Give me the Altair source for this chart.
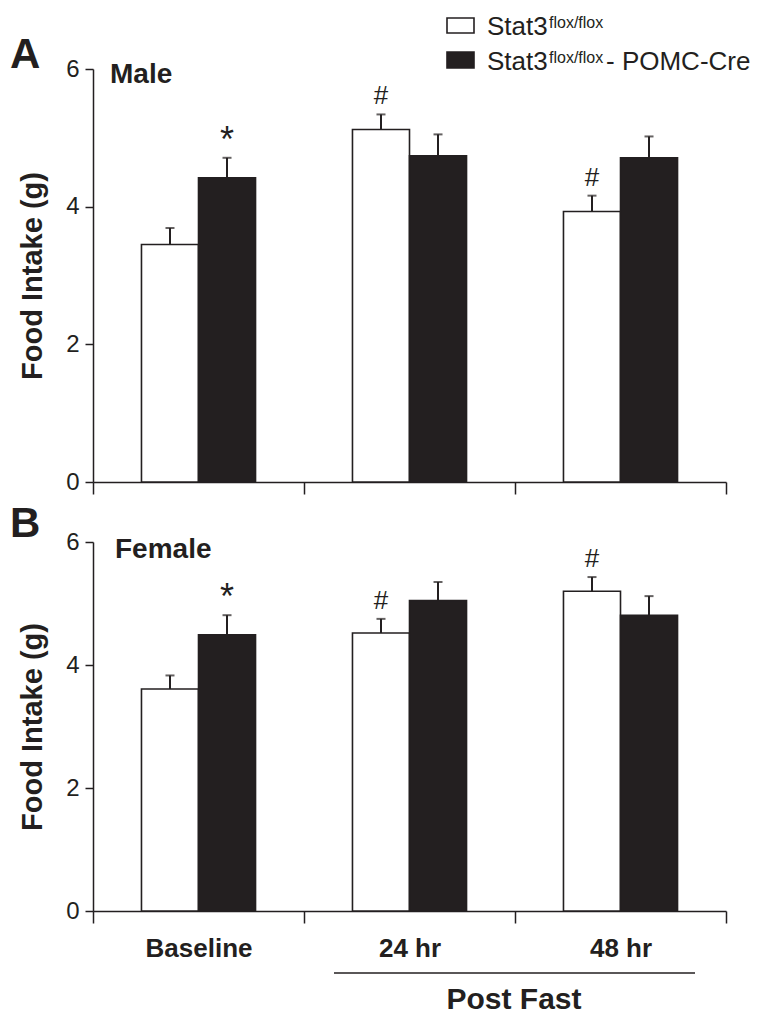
import altair as alt
import pandas as pd

# ---------------- data ----------------
times = ["Baseline", "24 hr", "48 hr"]
genos = ["ctrl", "ko"]

male_ctrl = [3.45, 5.12, 3.93]
male_ctrl_sem = [0.24, 0.22, 0.23]
male_ko = [4.42, 4.74, 4.71]
male_ko_sem = [0.29, 0.31, 0.31]
male_ctrl_sig = ["", "#", "#"]
male_ko_sig = ["*", "", ""]

female_ctrl = [3.61, 4.52, 5.20]
female_ctrl_sem = [0.22, 0.23, 0.23]
female_ko = [4.49, 5.05, 4.81]
female_ko_sem = [0.32, 0.30, 0.31]
female_ctrl_sig = ["", "#", "#"]
female_ko_sig = ["*", "", ""]

y_ticks = [0, 2, 4, 6]

INK = "#231f20"
FONT = "Liberation Sans"


def make_df(ctrl, ctrl_sem, ko, ko_sem, ctrl_sig, ko_sig):
    rows = []
    for i, t in enumerate(times):
        rows.append({"time": t, "geno": "ctrl", "mean": ctrl[i],
                     "top": ctrl[i] + ctrl_sem[i], "sig": ctrl_sig[i]})
        rows.append({"time": t, "geno": "ko", "mean": ko[i],
                     "top": ko[i] + ko_sem[i], "sig": ko_sig[i]})
    return pd.DataFrame(rows)


fill_scale = alt.Scale(domain=genos, range=["white", INK])


def panel(df, height, show_labels, extra):
    x_axis = alt.Axis(
        title=None,
        labels=show_labels,
        labelAngle=0,
        labelFontSize=26,
        labelFontWeight="bold",
        labelPadding=12,
        labelColor=INK,
        tickBand="extent",
        tickSize=12,
        tickWidth=1.5,
        tickColor=INK,
        domainColor=INK,
        domainWidth=1.5,
    )
    x = alt.X("time:N", sort=times, axis=x_axis,
              scale=alt.Scale(paddingInner=0, paddingOuter=0))
    xo = alt.XOffset("geno:N", sort=genos,
                     scale=alt.Scale(paddingInner=0, paddingOuter=0.85))
    y_axis = alt.Axis(
        values=y_ticks,
        format="d",
        grid=False,
        tickSize=8,
        tickWidth=1.5,
        tickColor=INK,
        domainColor=INK,
        domainWidth=1.5,
        labelFontSize=24,
        labelColor=INK,
        labelPadding=6,
        title="Food Intake (g)",
        titleFontSize=29,
        titleFontWeight="bold",
        titleColor=INK,
        titlePadding=18,
    )
    y_scale = alt.Scale(domain=[0, 6], nice=False)

    base = alt.Chart(df)
    bars = base.mark_bar(stroke=INK, strokeWidth=1.6).encode(
        x=x, xOffset=xo,
        y=alt.Y("mean:Q", scale=y_scale, axis=y_axis),
        fill=alt.Fill("geno:N", scale=fill_scale, legend=None),
    )
    err = base.mark_rule(color=INK, strokeWidth=2).encode(
        x=x, xOffset=xo, y="mean:Q", y2="top:Q")
    cap = base.mark_tick(orient="horizontal", size=9, thickness=2,
                         color=INK).encode(x=x, xOffset=xo, y="top:Q")
    hashes = base.transform_filter(alt.datum.sig == "#").mark_text(
        fontSize=26, dy=-10, baseline="alphabetic", color=INK, font=FONT
    ).encode(x=x, xOffset=xo, y="top:Q", text="sig:N")
    stars = base.transform_filter(alt.datum.sig == "*").mark_text(
        fontSize=36, dy=-6, baseline="alphabetic", color=INK, font=FONT
    ).encode(x=x, xOffset=xo, y="top:Q", text="sig:N")
    layers = [bars, err, cap, hashes, stars] + extra
    return alt.layer(*layers).properties(width=633, height=height)


def label(txt, x, y, size, weight="bold", align="left", baseline="alphabetic"):
    return alt.Chart(pd.DataFrame({"t": [txt]})).mark_text(
        fontSize=size, fontWeight=weight, align=align, baseline=baseline,
        color=INK, font=FONT
    ).encode(x=alt.value(x), y=alt.value(y), text="t:N")


def legend_box(g, y0, y1):
    return alt.Chart(pd.DataFrame({"geno": [g]})).mark_rect(
        stroke=INK, strokeWidth=1.6
    ).encode(x=alt.value(354), x2=alt.value(381), y=alt.value(y0),
             y2=alt.value(y1),
             fill=alt.Fill("geno:N", scale=fill_scale, legend=None))


male_df = make_df(male_ctrl, male_ctrl_sem, male_ko, male_ko_sem,
                  male_ctrl_sig, male_ko_sig)
female_df = make_df(female_ctrl, female_ctrl_sem, female_ko, female_ko_sem,
                    female_ctrl_sig, female_ko_sig)

extra_a = [
    label("A", -83, -1, 42),
    label("Male", 17, 14, 28),
    legend_box("ctrl", -51, -36),
    legend_box("ko", -17, -1),
    label("Stat3", 394, -34, 26, weight="normal"),
    label("flox/flox", 456, -41, 16, weight="normal"),
    label("Stat3", 394, 1, 26, weight="normal"),
    label("flox/flox", 456, -6, 16, weight="normal"),
    label("- POMC-Cre", 513, 1, 26, weight="normal"),
]

post_line = alt.Chart(pd.DataFrame({"t": ["Post Fast"]})).mark_rule(
    color=INK, strokeWidth=1.5
).encode(x=alt.value(241), x2=alt.value(602), y=alt.value(431))

extra_b = [
    label("B", -83, -5, 42),
    label("Female", 22, 16, 28),
    post_line,
    label("Post Fast", 421, 458, 30, align="center", baseline="middle"),
]

chart_a = panel(male_df, 413, False, extra_a)
chart_b = panel(female_df, 369, True, extra_b)

chart = alt.vconcat(chart_a, chart_b, spacing=60, bounds="flush").properties(
    padding={"left": 2, "top": 6, "right": 0, "bottom": 0}
).configure_view(stroke=None).configure_axis(
    labelFont=FONT, titleFont=FONT
).configure_text(font=FONT)

chart.save("out.html", embed_options={"renderer": "svg", "actions": False})
